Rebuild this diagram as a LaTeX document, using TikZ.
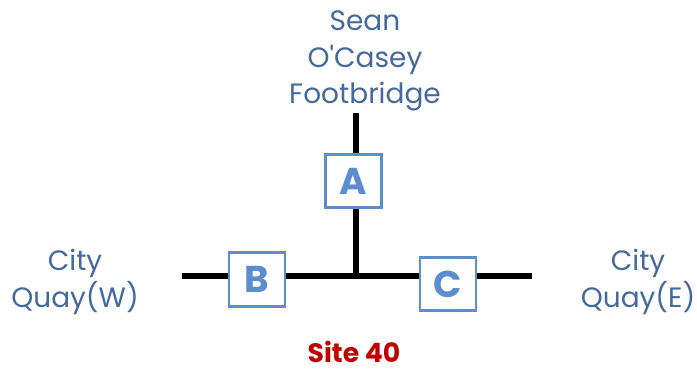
\documentclass[tikz,border=0pt]{standalone}
\usepackage{fontspec}
\setmainfont{Poppins}
\usetikzlibrary{positioning, backgrounds}
\definecolor{BlueA}{HTML}{44699C}
\definecolor{BlueB}{HTML}{5B8DCF}
\definecolor{RedA}{HTML}{C00000}
\tikzset{
  road/.style={line width=3.8pt, black},
  site/.style={draw=BlueB, fill=white, line width=2.2pt, minimum width=42pt,
               minimum height=40pt, inner sep=0pt, text=BlueB,
               font=\fontsize{28}{30}\selectfont\bfseries},
  lbl/.style={align=center, text=BlueA, font=\fontsize{21}{27.5}\selectfont},
  ttl/.style={text=RedA, font=\fontsize{20}{22}\selectfont\bfseries},
}

\begin{document}
\begin{tikzpicture}[x=0.75pt, y=-0.75pt]
  \useasboundingbox (0,0) rectangle (697,373);

  % road ends and junction
  \coordinate (W) at (182,276);
  \coordinate (E) at (532,276);
  \coordinate (J) at (356,276);
  \coordinate (T) at (356,113);

  \node[site] (A) at (353.5,181) {A};
  \node[site] (B) at (257,279.5) {B};
  \node[site] (C) at (448,284) {C};

  \node[lbl] (north) at (365,61) {Sean\\O\textquotesingle Casey\\Footbridge};
  \node[lbl] (west) at (75,282) {City\\Quay(W)};
  \node[lbl] (east) at (638,282) {City\\Quay(E)};
  \node[ttl] (title) at (354,352) {Site 40};

  \begin{scope}[on background layer]
    \draw[road] (W) -- (E);
    \draw[road] (T) -- (J);
  \end{scope}
\end{tikzpicture}
\end{document}
